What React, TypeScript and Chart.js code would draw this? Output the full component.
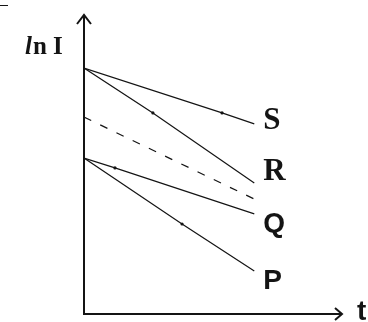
import React, { useEffect, useRef } from "react";
import { Chart, registerables } from "chart.js";

Chart.register(...registerables);

// time values (arbitrary units)
const tStart = 0;
const tEnd = 6.6;
// ln I values for each line: [start, marker, end]
const sT = [0, 5.35, 6.6];
const sVals = [8.28, 6.77, 6.4];
const rT = [0, 2.67, 6.6];
const rVals = [8.28, 6.77, 4.41];
const dashT = [0, 6.6];
const dashVals = [6.63, 3.87];
const qT = [0, 1.2, 6.6];
const qVals = [5.25, 4.92, 3.37];
const pT = [0, 3.8, 6.6];
const pVals = [5.25, 3.03, 1.45];
const lineLabels = ["S", "R", "Q", "P"];
const yAxisLabel = "ln I";
const xAxisLabel = "t";

const INK = "#141414";

const toPts = (xs: number[], ys: number[]) => xs.map((x, i) => ({ x, y: ys[i] }));

export default function App() {
  const ref = useRef<HTMLCanvasElement | null>(null);

  useEffect(() => {
    if (!ref.current) return;
    document.body.style.margin = "0";

    const decor = {
      id: "decor",
      afterDraw(chart: any) {
        const { ctx, chartArea } = chart;
        const xs = chart.scales.x;
        const ys = chart.scales.y;
        const x0 = chartArea.left;
        const y0 = chartArea.bottom;
        ctx.save();
        ctx.strokeStyle = INK;
        ctx.lineWidth = 2;
        ctx.lineCap = "butt";
        // y axis
        ctx.beginPath();
        ctx.moveTo(x0, y0 + 1);
        ctx.lineTo(x0, chartArea.top - 2);
        ctx.stroke();
        // x axis
        ctx.beginPath();
        ctx.moveTo(x0 - 1, y0);
        ctx.lineTo(chartArea.right, y0);
        ctx.stroke();
        // arrow heads
        ctx.lineWidth = 2;
        ctx.beginPath();
        ctx.moveTo(x0 - 7, chartArea.top + 7);
        ctx.lineTo(x0, chartArea.top - 2);
        ctx.lineTo(x0 + 7, chartArea.top + 7);
        ctx.stroke();
        ctx.beginPath();
        ctx.moveTo(chartArea.right - 7, y0 - 6);
        ctx.lineTo(chartArea.right, y0);
        ctx.lineTo(chartArea.right - 7, y0 + 6);
        ctx.stroke();
        // small stray tick at top-left
        ctx.lineWidth = 1;
        ctx.beginPath();
        ctx.moveTo(0, 5.5);
        ctx.lineTo(8, 5.5);
        ctx.stroke();

        // line labels
        ctx.fillStyle = INK;
        ctx.textBaseline = "middle";
        ctx.textAlign = "left";
        const ends = [sVals[2], rVals[2], qVals[2], pVals[2]];
        const offs = [-3, -11, 10, 10];
        const fonts = [
          "bold 31px 'Liberation Serif', serif",
          "bold 31px 'Liberation Serif', serif",
          "bold 28px 'Liberation Sans', sans-serif",
          "bold 28px 'Liberation Sans', sans-serif",
        ];
        lineLabels.forEach((lab, i) => {
          ctx.font = fonts[i];
          ctx.fillText(lab, xs.getPixelForValue(tEnd) + 9, ys.getPixelForValue(ends[i]) + offs[i]);
        });
        // t label
        ctx.font = "bold 28px 'Liberation Sans', sans-serif";
        ctx.fillText(xAxisLabel, chartArea.right + 15, y0 - 2);
        // ln I label
        const ly = 48;
        let lx = 25;
        ctx.font = "italic bold 25px 'Liberation Serif', serif";
        ctx.fillText(yAxisLabel[0], lx, ly);
        lx += ctx.measureText(yAxisLabel[0]).width + 1;
        ctx.font = "bold 25px 'Liberation Serif', serif";
        ctx.fillText(yAxisLabel.slice(1), lx, ly);
        ctx.restore();
      },
    };

    const lineDs = (data: any[], markerIdx: number, dash: number[] = []) => ({
      data,
      borderColor: INK,
      backgroundColor: INK,
      borderWidth: 1.2,
      borderDash: dash,
      pointRadius: data.map((_: any, i: number) => (i === markerIdx ? 1.6 : 0)),
      pointBorderWidth: 0,
      tension: 0,
      fill: false,
    });

    const chart = new Chart(ref.current, {
      type: "line",
      data: {
        datasets: [
          lineDs(toPts(sT, sVals), 1),
          lineDs(toPts(rT, rVals), 1),
          lineDs(toPts(dashT, dashVals), -1, [8, 10]),
          lineDs(toPts(qT, qVals), 1),
          lineDs(toPts(pT, pVals), 1),
        ],
      },
      options: {
        responsive: false,
        animation: false,
        layout: { padding: { left: 84, right: 26, top: 17, bottom: 8 } },
        plugins: { legend: { display: false }, tooltip: { enabled: false } },
        scales: {
          x: { type: "linear", min: tStart, max: 10, display: false },
          y: { type: "linear", min: 0, max: 10, display: false },
        },
      },
      plugins: [decor],
    });
    return () => chart.destroy();
  }, []);

  return (
    <div style={{ position: "absolute", left: 0, top: 0, width: 368, height: 322, background: "#fff" }}>
      <canvas ref={ref} width={368} height={322} style={{ display: "block" }} />
    </div>
  );
}
